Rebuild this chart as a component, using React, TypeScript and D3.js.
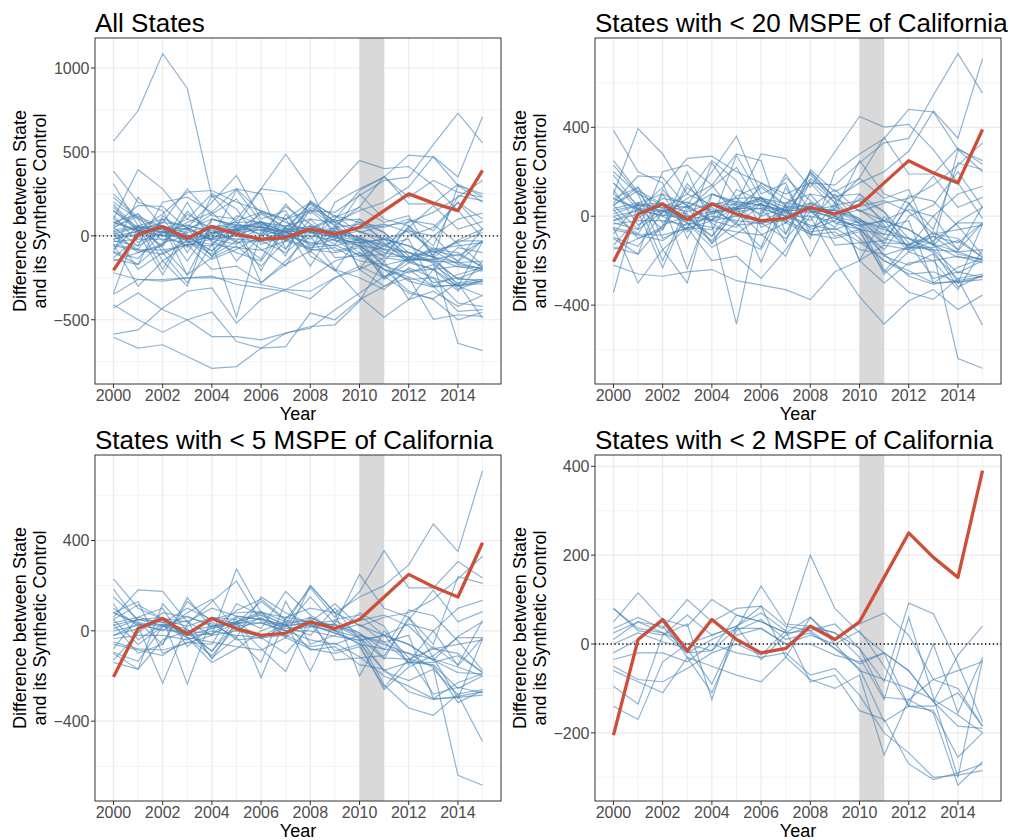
import * as d3 from 'd3';

const years = d3.range(2000, 2016);

// California gap (treated unit)
const california = [-205, 10, 55, -15, 55, 10, -20, -10, 40, 10, 50, 150, 250, 195, 150, 390];

// placebo states with < 2 MSPE of California
const mspe2States = [
  [80, 30, 20, 65, 20, 40, 70, 30, 200, 80, 25, -20, -60, -130, -25, 40],
  [50, 115, 55, 40, 100, 65, 50, 25, 60, 10, 45, 70, 20, -80, -100, -185],
  [35, 60, 35, 100, 50, 80, 85, 40, 30, 45, -10, -85, 92, 68, -45, -175],
  [10, 50, 25, 0, -15, 35, 130, 45, 40, 25, -30, -125, 60, -120, -300, -35],
  [0, 25, 5, -10, -90, 30, 55, 10, 25, -10, -55, -175, -140, -150, -255, -200],
  [-20, 10, 50, -30, -110, 20, 35, 0, 0, -25, -40, -20, -60, -130, -185, -190],
  [-35, -20, -20, -40, 0, -20, -30, -20, -70, -55, -115, -200, -245, -300, -295, -285],
  [-50, -80, -85, -55, -20, 0, -25, 30, -85, -70, -150, -170, -270, -305, -290, -270],
  [-60, -85, -110, -30, -50, -70, -85, -30, -80, -100, -70, -250, -125, -155, -318, -265],
  [-95, -135, 20, 45, -125, 40, 85, -30, 60, 0, 30, -50, -140, 0, -155, -30],
  [-140, -170, -40, 0, 20, 40, -35, 20, 40, 25, -10, -120, -125, -80, -60, -40],
  [80, 35, 25, -20, -15, 65, 50, 25, 30, -10, -45, -20, -140, -140, -110, -185],
  [25, 50, 40, -20, 10, 35, 35, 0, 20, 0, -60, -80, -100, -125, -160, -200],
];

// added when the cut is < 5 MSPE
const mspe5States = [
  [230, 100, 50, 20, 60, 30, 80, 60, 100, 80, 150, 200, 292, 473, 351, 709],
  [185, 40, -60, 147, 10, 90, 140, 50, 190, 60, 173, 355, 190, 190, 307, 234],
  [60, 181, 175, 40, -20, 274, 80, 20, 150, 30, -20, -60, -100, -164, -640, -684],
  [-100, -170, 120, 0, -90, 60, 10, 174, 70, 0, -30, -180, -220, -170, -283, -490],
  [100, 20, -232, 30, 130, 220, 40, 20, -20, 100, -40, -240, -342, -374, -280, -260],
  [150, 50, 60, -236, 60, 50, -207, 60, 40, 120, 20, 60, 80, 140, 230, 330],
  [-20, 30, 0, 80, 140, 0, 60, -30, 200, 80, -200, 0, -120, -280, -250, -275],
  [50, -60, 20, -30, -140, -80, 0, 40, -180, 50, 70, -20, 30, 0, 100, 135],
  [-130, -10, 80, 60, 30, -30, 150, 80, 30, -90, -60, -260, -160, -110, -30, -30],
  [30, -100, -60, 130, 40, -40, -30, -100, 20, 30, 250, 100, 60, -60, 240, 210],
  [80, 130, -100, -50, -60, 120, 70, 0, -40, -60, -20, -50, -20, -300, -230, -190],
  [-80, 60, 100, -70, 20, 30, -80, -180, 60, -130, -120, -110, 50, 180, 40, 85],
  [120, -40, 30, 10, -120, -30, -140, 130, -60, -20, 80, 20, -150, -70, -150, 45],
];

// added when the cut is < 20 MSPE
const mspe20States = [
  [386, 200, 150, -100, 100, 50, 80, 20, -50, 0, -100, -200, -260, -250, -300, -270],
  [-343, 60, -200, 50, -30, -100, -150, 50, -100, 200, 280, 350, 481, 469, 300, 200],
  [100, 394, 280, 100, 250, 160, -50, 0, 170, 90, 100, 20, -100, -150, -160, -150],
  [0, -80, 100, 50, 200, 360, 100, 150, -80, 60, -200, -300, -210, -200, -180, -210],
  [-150, -100, -50, 200, -40, -485, 30, -80, 100, -30, -60, -150, 0, 50, 200, 40],
  [-220, -260, -270, -250, -240, -290, -310, -330, -375, -250, -200, -130, -150, -90, -170, -195],
  [200, 100, -150, -300, 100, 60, 280, 260, 130, 290, 449, 401, 413, 300, 150, -10],
  [-50, -300, -150, -50, -200, -180, -280, -150, 0, -200, -362, -485, -380, -330, -420, -355],
  [150, 30, 130, 260, 270, 200, 150, 100, 150, 140, 240, 330, 350, 544, 731, 554],
  [50, 130, 0, -60, 240, 80, 0, 190, 20, -50, 100, -40, -160, -200, -330, -150],
  [-30, -60, 200, 230, 140, 280, 250, -80, 160, 60, -20, -100, -130, -90, -120, -30],
  [250, 110, -30, 50, -20, -50, 60, -120, 210, 110, 170, 80, 120, -130, 300, 250],
];

// remaining states (only in "All States")
const otherStates = [
  [565, 745, 1085, 880, 230, 280, 140, 100, 200, 120, 80, 50, 100, 30, 200, 100],
  [-604, -669, -649, -719, -789, -779, -669, -580, -550, -440, -340, -241, -200, -300, -450, -440],
  [-586, -560, -430, -330, -310, -520, -380, -320, -250, -150, -100, -200, -330, -380, -500, -455],
  [-410, -500, -574, -500, -454, -630, -669, -660, -460, -500, -380, -300, -250, -498, -470, -480],
  [-430, -340, -440, -500, -600, -600, -620, -580, -540, -530, -390, -150, -380, -200, -300, -357],
  [-349, -260, -260, -250, -250, -260, -290, -320, -330, -250, -180, -250, -140, -140, -260, -260],
  [170, 30, 80, 280, 120, 100, 280, 486, 280, -20, -120, -60, 40, -100, -40, 20],
  [-100, 230, 50, -150, 60, -150, 0, 100, -120, -200, -250, -320, -190, -250, -400, -420],
  [310, 60, -70, -230, -130, -60, -180, -30, 40, 100, 270, 350, 230, 330, 260, 230],
  [20, -200, -100, -280, -50, 50, -280, -170, -90, -210, 0, -80, -150, -200, -70, -100],
];

const xTicks = [2000, 2002, 2004, 2006, 2008, 2010, 2012, 2014];
const xMinor = [2001, 2003, 2005, 2007, 2009, 2011, 2013, 2015];
const yTicksAll = [-500, 0, 500, 1000];
const yMinorAll = [-750, -250, 250, 750];
const yTicksMid = [-400, 0, 400];
const yMinorMid = [-600, -200, 200, 600];
const yTicks2 = [-200, 0, 200, 400];
const yMinor2 = [-300, -100, 100, 300];

const font = '"Liberation Sans", Arial, Helvetica, sans-serif';
const fmt = (v: number) => (v < 0 ? '\u2212' + Math.abs(v) : String(v));

function Panel({ title, left, top, series, ticks, minor, zeroLine }) {
  const width = 406;
  const height = 346;
  const right = left + width;
  const bottom = top + height;
  const all = series.concat([california]).flat();
  const lo = d3.min(all);
  const hi = d3.max(all);
  const pad = (hi - lo) * 0.05;
  const x = d3.scaleLinear().domain([1999.25, 2015.75]).range([left, right]);
  const y = d3.scaleLinear().domain([lo - pad, hi + pad]).range([bottom, top]);
  const line = d3.line<number>().x((d, i) => x(years[i])).y(d => y(d));
  const cy = (top + bottom) / 2;

  return (
    <g>
      <text x={left} y={top - 6} fontSize={26} fill="#000" fontFamily={font}>{title}</text>
      {minor.map(v => (
        <line key={'ym' + v} x1={left} x2={right} y1={y(v)} y2={y(v)} stroke="#ebebeb" strokeWidth={0.6} />
      ))}
      {xMinor.map(v => (
        <line key={'xm' + v} x1={x(v)} x2={x(v)} y1={top} y2={bottom} stroke="#ebebeb" strokeWidth={0.6} />
      ))}
      {ticks.map(v => (
        <line key={'yg' + v} x1={left} x2={right} y1={y(v)} y2={y(v)} stroke="#ebebeb" strokeWidth={1.2} />
      ))}
      {xTicks.map(v => (
        <line key={'xg' + v} x1={x(v)} x2={x(v)} y1={top} y2={bottom} stroke="#ebebeb" strokeWidth={1.2} />
      ))}
      <rect x={x(2010)} y={top} width={x(2011) - x(2010)} height={height} fill="#d9d9d9" />
      {zeroLine && (
        <line x1={left} x2={right} y1={y(0)} y2={y(0)} stroke="#000" strokeWidth={1.3} strokeDasharray="1.3,2.6" />
      )}
      {series.map((s, i) => (
        <path key={i} d={line(s)} fill="none" stroke="#4682b4" strokeOpacity={0.6} strokeWidth={1.2} />
      ))}
      <path d={line(california)} fill="none" stroke="#cd4f39" strokeWidth={3.3} strokeLinejoin="round" />
      <rect x={left} y={top} width={width} height={height} fill="none" stroke="#333" strokeWidth={1} />
      {ticks.map(v => (
        <g key={'yt' + v}>
          <line x1={left - 4} x2={left} y1={y(v)} y2={y(v)} stroke="#333" strokeWidth={1} />
          <text x={left - 5.5} y={y(v)} dy="0.36em" textAnchor="end" fontSize={16} fill="#4d4d4d" fontFamily={font}>{fmt(v)}</text>
        </g>
      ))}
      {xTicks.map(v => (
        <g key={'xt' + v}>
          <line x1={x(v)} x2={x(v)} y1={bottom} y2={bottom + 4} stroke="#333" strokeWidth={1} />
          <text x={x(v)} y={bottom + 17} textAnchor="middle" fontSize={16} fill="#4d4d4d" fontFamily={font}>{v}</text>
        </g>
      ))}
      <text x={(left + right) / 2} y={bottom + 35.5} textAnchor="middle" fontSize={18} fill="#000" fontFamily={font}>Year</text>
      <text transform={`translate(${left - 69},${cy}) rotate(-90)`} textAnchor="middle" fontSize={18} fill="#000" fontFamily={font}>
        Difference between State
      </text>
      <text transform={`translate(${left - 49},${cy}) rotate(-90)`} textAnchor="middle" fontSize={18} fill="#000" fontFamily={font}>
        and its Synthetic Control
      </text>
    </g>
  );
}

export default function App() {
  const s2 = mspe2States;
  const s5 = s2.concat(mspe5States);
  const s20 = s5.concat(mspe20States);
  const sAll = s20.concat(otherStates);
  return (
    <svg width={1023} height={840} style={{ position: 'absolute', left: 0, top: 0, background: '#fff' }}>
      <Panel title="All States" left={95} top={38} series={sAll} ticks={yTicksAll} minor={yMinorAll} zeroLine />
      <Panel title="States with < 20 MSPE of California" left={595} top={38} series={s20} ticks={yTicksMid} minor={yMinorMid} zeroLine={false} />
      <Panel title="States with < 5 MSPE of California" left={95} top={455} series={s5} ticks={yTicksMid} minor={yMinorMid} zeroLine={false} />
      <Panel title="States with < 2 MSPE of California" left={595} top={455} series={s2} ticks={yTicks2} minor={yMinor2} zeroLine />
    </svg>
  );
}
